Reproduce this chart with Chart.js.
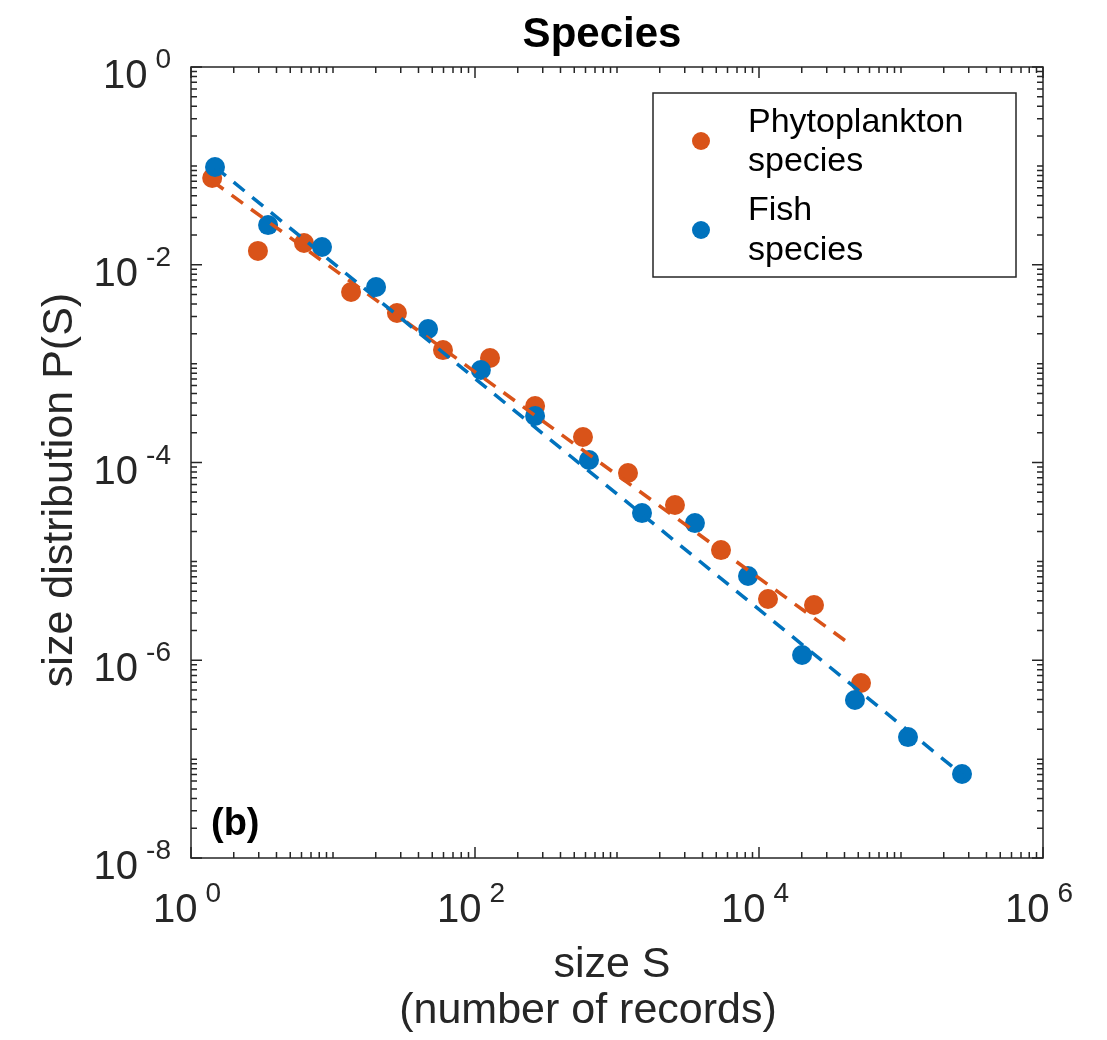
<!DOCTYPE html>
<html lang="en">
<head>
    <meta charset="UTF-8">
    <title>Species</title>
    <script src="https://cdn.jsdelivr.net/npm/chart.js"></script>
    <style>
        body {
            margin: 0;
            padding: 0;
            background-color: #fff;
        }
        #wrap {
            width: 1107px;
            height: 1040px;
        }
    </style>
</head>
<body>
    <div id="wrap"><canvas id="chart" width="1107" height="1040"></canvas></div>
    <script>
        // values (log-log)
        const phytoSize = [1.41, 2.96, 6.25, 13.4, 28.2, 59.5, 127.6, 265, 576, 1195, 2560, 5400, 11570, 24400, 52300];
        const phytoP = [0.0754, 0.0138, 0.0166, 0.0053, 0.00325, 0.00137, 0.00114, 3.73e-4, 1.81e-4, 7.83e-5, 3.72e-5, 1.30e-5, 4.16e-6, 3.62e-6, 5.89e-7];
        const fishSize = [1.476, 3.49, 8.37, 20.1, 46.7, 110, 265, 635, 1500, 3540, 8370, 20100, 47400, 112000, 269000];
        const fishP = [0.0974, 0.0252, 0.0151, 0.00596, 0.00224, 8.63e-4, 2.95e-4, 1.06e-4, 3.08e-5, 2.44e-5, 7.11e-6, 1.13e-6, 3.96e-7, 1.67e-7, 7.08e-8];

        // dashed power-law fits (end points)
        const phytoFitSize = [1.41, 41700];
        const phytoFitP = [0.0703, 1.53e-6];
        const fishFitSize = [1.476, 282000];
        const fishFitP = [0.0974, 6.6e-8];

        const xTickExp = [0, 2, 4, 6];
        const yTickExp = [0, -2, -4, -6, -8];
        const legendLines = [['Phytoplankton', 'species'], ['Fish', 'species']];

        const orange = '#D95319';
        const blue = '#0072BD';
        const axisColor = '#262626';
        const fontName = '"Liberation Sans", Arial, Helvetica, sans-serif';

        const toPts = (xs, ys) => xs.map((x, i) => ({ x: x, y: ys[i] }));

        // draws "10" with a raised exponent
        function powLabel(ctx, exp, x, y, align) {
            const base = '10';
            const sup = String(exp);
            ctx.font = '40px ' + fontName;
            const wb = ctx.measureText(base).width;
            ctx.font = '28px ' + fontName;
            const ws = ctx.measureText(sup).width;
            const gap = 8;
            const total = wb + gap + ws;
            let left = align === 'right' ? x - total : x - total / 2;
            ctx.textAlign = 'left';
            ctx.textBaseline = 'alphabetic';
            ctx.font = '40px ' + fontName;
            ctx.fillText(base, left, y);
            ctx.font = '28px ' + fontName;
            ctx.fillText(sup, left + wb + gap, y - 20);
        }

        const matlabAxes = {
            id: 'matlabAxes',
            afterDraw(chart) {
                const ctx = chart.ctx;
                const a = chart.chartArea;
                const xs = chart.scales.x;
                const ys = chart.scales.y;
                ctx.save();
                ctx.strokeStyle = axisColor;
                ctx.fillStyle = axisColor;
                ctx.lineWidth = 1.5;

                // x ticks (inward, bottom and top)
                for (let d = 0; d <= 6; d++) {
                    for (let k = 1; k < 10; k++) {
                        if (d === 6 && k > 1) break;
                        const v = k * Math.pow(10, d);
                        const px = xs.getPixelForValue(v);
                        const len = (k === 1 && xTickExp.includes(d)) ? 11 : 6;
                        ctx.beginPath();
                        ctx.moveTo(px, a.bottom);
                        ctx.lineTo(px, a.bottom - len);
                        ctx.moveTo(px, a.top);
                        ctx.lineTo(px, a.top + len);
                        ctx.stroke();
                    }
                }
                // y ticks (inward, left and right)
                for (let d = -8; d <= 0; d++) {
                    for (let k = 1; k < 10; k++) {
                        if (d === 0 && k > 1) break;
                        const v = k * Math.pow(10, d);
                        const py = ys.getPixelForValue(v);
                        const len = (k === 1 && yTickExp.includes(d)) ? 11 : 6;
                        ctx.beginPath();
                        ctx.moveTo(a.left, py);
                        ctx.lineTo(a.left + len, py);
                        ctx.moveTo(a.right, py);
                        ctx.lineTo(a.right - len, py);
                        ctx.stroke();
                    }
                }
                // box
                ctx.strokeRect(a.left, a.top, a.right - a.left, a.bottom - a.top);

                // tick labels
                xTickExp.forEach(e => {
                    const px = xs.getPixelForValue(Math.pow(10, e));
                    powLabel(ctx, e, px - 4, a.bottom + 64, 'center');
                });
                yTickExp.forEach(e => {
                    const py = ys.getPixelForValue(Math.pow(10, e));
                    powLabel(ctx, e, a.left - 20, py + 21, 'right');
                });

                // title and axis labels
                ctx.textAlign = 'center';
                ctx.textBaseline = 'alphabetic';
                ctx.font = 'bold 42px ' + fontName;
                ctx.fillStyle = '#000';
                ctx.fillText('Species', 602, 47);
                ctx.fillStyle = axisColor;
                ctx.font = '43px ' + fontName;
                ctx.fillText('size S', 612, 977);
                ctx.fillText('(number of records)', 588, 1023);
                ctx.save();
                ctx.translate(72, 490);
                ctx.rotate(-Math.PI / 2);
                ctx.fillText('size distribution P(S)', 0, 0);
                ctx.restore();

                // panel tag
                ctx.textAlign = 'left';
                ctx.font = 'bold 38px ' + fontName;
                ctx.fillStyle = '#000';
                ctx.fillText('(b)', 211, 835);

                // legend
                ctx.fillStyle = '#fff';
                ctx.fillRect(653, 93, 363, 184);
                ctx.strokeStyle = axisColor;
                ctx.lineWidth = 1.5;
                ctx.strokeRect(653, 93, 363, 184);
                const colors = [orange, blue];
                const markY = [141, 230];
                const baseY = [[132, 171], [220, 260]];
                ctx.font = '34px ' + fontName;
                legendLines.forEach((lines, i) => {
                    ctx.fillStyle = colors[i];
                    ctx.beginPath();
                    ctx.arc(701, markY[i], 9, 0, Math.PI * 2);
                    ctx.fill();
                    ctx.fillStyle = '#000';
                    lines.forEach((t, j) => ctx.fillText(t, 748, baseY[i][j]));
                });
                ctx.restore();
            }
        };

        new Chart(document.getElementById('chart').getContext('2d'), {
            type: 'scatter',
            data: {
                datasets: [
                    {
                        label: 'Phytoplankton species',
                        data: toPts(phytoSize, phytoP),
                        backgroundColor: orange,
                        pointRadius: 10,
                        pointBorderWidth: 0,
                        showLine: false,
                        order: 3
                    },
                    {
                        label: 'Fish species',
                        data: toPts(fishSize, fishP),
                        backgroundColor: blue,
                        pointRadius: 10,
                        pointBorderWidth: 0,
                        showLine: false,
                        order: 2
                    },
                    {
                        label: 'Phytoplankton fit',
                        data: toPts(phytoFitSize, phytoFitP),
                        showLine: true,
                        borderColor: orange,
                        borderWidth: 3.5,
                        borderDash: [14, 10],
                        pointRadius: 0,
                        order: 1
                    },
                    {
                        label: 'Fish fit',
                        data: toPts(fishFitSize, fishFitP),
                        showLine: true,
                        borderColor: blue,
                        borderWidth: 3.5,
                        borderDash: [14, 10],
                        pointRadius: 0,
                        order: 0
                    }
                ]
            },
            options: {
                responsive: false,
                animation: false,
                devicePixelRatio: 1,
                events: [],
                layout: {
                    padding: { left: 191, right: 64, top: 67, bottom: 182 }
                },
                scales: {
                    x: { type: 'logarithmic', min: 1, max: 1e6, display: false },
                    y: { type: 'logarithmic', min: 1e-8, max: 1, display: false }
                },
                plugins: {
                    legend: { display: false },
                    tooltip: { enabled: false }
                }
            },
            plugins: [matlabAxes]
        });
    </script>
</body>
</html>
